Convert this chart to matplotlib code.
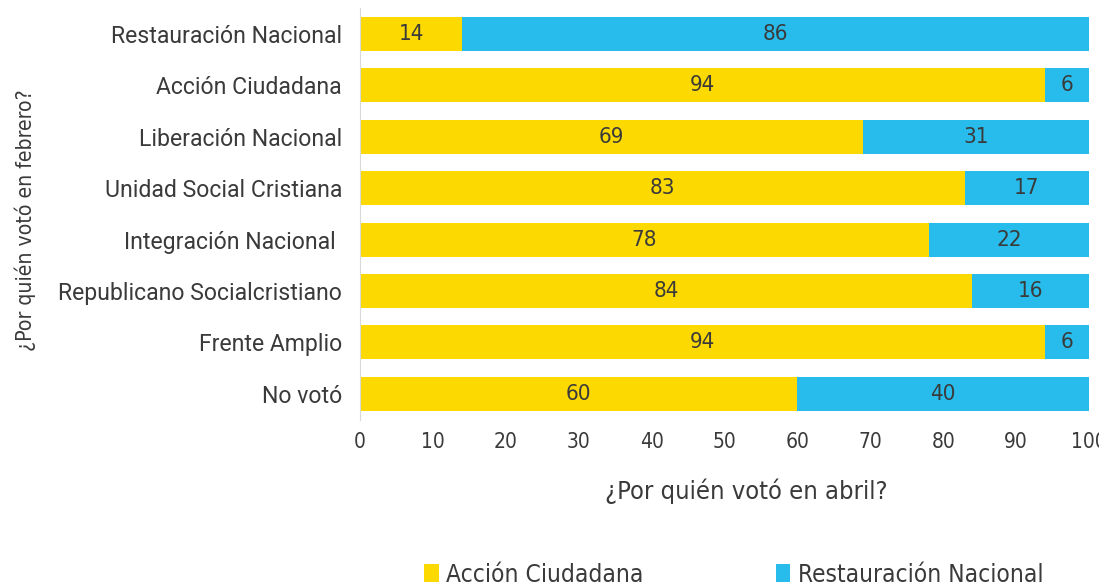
import matplotlib
matplotlib.use("Agg")
import matplotlib.pyplot as plt
from matplotlib import font_manager

# Data
categories = ["Restauración Nacional", "Acción Ciudadana", "Liberación Nacional",
              "Unidad Social Cristiana", "Integración Nacional ",
              "Republicano Socialcristiano", "Frente Amplio", "No votó"]
accion = [14, 94, 69, 83, 78, 84, 94, 60]
restauracion = [86, 6, 31, 17, 22, 16, 6, 40]
series_names = ["Acción Ciudadana", "Restauración Nacional"]
xticks = [0, 10, 20, 30, 40, 50, 60, 70, 80, 90, 100]

YELLOW = "#FCD900"
CYAN = "#27BCEC"
TEXT = "#3a3a3a"

# look for a condensed face for the numbers and axis titles
cond_file = None
for f in font_manager.fontManager.ttflist:
    if (("Narrow" in f.name or "Condensed" in f.fname)
            and f.style == "normal" and f.weight in (400, "normal")
            and "Mono" not in f.fname):
        cond_file = f.fname
        break


def narrow_font(size):
    if cond_file:
        return font_manager.FontProperties(fname=cond_file, size=size)
    return font_manager.FontProperties(family="Roboto", size=size * 0.9)


plt.rcParams["font.family"] = ["Roboto", "DejaVu Sans"]

fig = plt.figure(figsize=(10.99, 5.82), dpi=100)
ax = fig.add_axes([0.3276, 0.2792, 0.6633, 0.7065])

ypos = list(range(len(categories)))
b1 = ax.barh(ypos, accion, height=0.66, color=YELLOW, label=series_names[0])
b2 = ax.barh(ypos, restauracion, left=accion, height=0.66, color=CYAN,
             label=series_names[1])
for bars in (b1, b2):
    ax.bar_label(bars, label_type="center", color=TEXT,
                 fontproperties=narrow_font(16))

ax.tick_params(axis="both", length=0)
ax.tick_params(axis="x", pad=9)
ax.tick_params(axis="y", pad=13)
ax.set_ylim(len(categories) - 0.5, -0.5)
ax.set_xlim(0, 100)
ax.set_xticks(xticks)
ax.set_xticklabels([str(v) for v in xticks], fontproperties=narrow_font(15),
                   color=TEXT)
ax.set_yticks(ypos)
ax.set_yticklabels(categories, fontsize=16.6, color=TEXT)
for s in ["top", "right", "bottom"]:
    ax.spines[s].set_visible(False)
ax.spines["left"].set_color("#d9d9d9")

ax.set_xlabel("¿Por quién votó en abril?", color=TEXT,
              fontproperties=narrow_font(18.3))
ax.xaxis.set_label_coords(0.53, -0.143)
fig.text(0.023, 0.622, "¿Por quién votó en febrero?", rotation=90,
         ha="center", va="center", color=TEXT,
         fontproperties=narrow_font(15.2))

leg = fig.legend(handles=[b1, b2], labels=series_names, loc="center",
                 bbox_to_anchor=(0.6675, 0.012), ncol=2, frameon=False,
                 handlelength=0.6, handleheight=0.8, handletextpad=0.3,
                 columnspacing=5.4, prop=narrow_font(17.6))
for t in leg.get_texts():
    t.set_color(TEXT)

fig.savefig("out.png", dpi=100)
